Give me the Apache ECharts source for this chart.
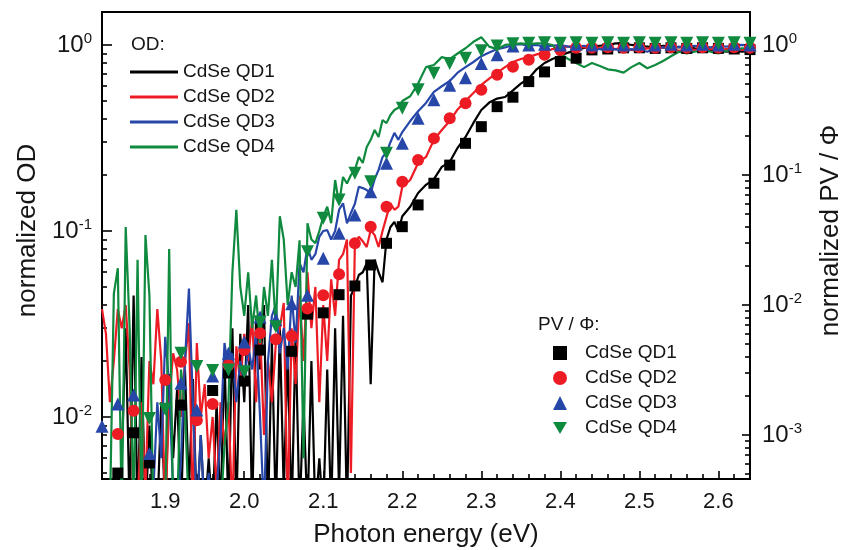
<!DOCTYPE html>
<html><head><meta charset="utf-8">
<script src="https://cdn.jsdelivr.net/npm/echarts@6/dist/echarts.min.js"></script>
<style>html,body{margin:0;padding:0;background:#fff}#c{width:845px;height:550px}</style>
</head><body><div id="c"></div>
<script>
// ---------- data ----------
const lineEnergy = [
1.820,1.825,1.830,1.835,1.840,1.845,1.850,1.855,1.860,1.865,
1.870,1.875,1.880,1.885,1.890,1.895,1.900,1.905,1.910,1.915,
1.920,1.925,1.930,1.935,1.940,1.945,1.950,1.955,1.960,1.965,
1.970,1.975,1.980,1.985,1.990,1.995,2.000,2.005,2.010,2.015,
2.020,2.025,2.030,2.035,2.040,2.045,2.050,2.055,2.060,2.065,
2.070,2.075,2.080,2.085,2.090,2.095,2.100,2.105,2.110,2.115,
2.120,2.125,2.130,2.135,2.140,2.145,2.150,2.155,2.160,2.165,
2.170,2.175,2.180,2.185,2.190,2.195,2.200,
2.21,2.22,2.23,2.24,2.25,2.26,2.27,2.28,2.29,2.30,
2.31,2.32,2.33,2.34,2.35,2.36,2.37,2.38,2.39,2.40,
2.41,2.42,2.43,2.44,2.45,2.46,2.47,2.48,2.49,2.50,
2.51,2.52,2.53,2.54,2.55,2.56,2.57,2.58,2.59,2.60,
2.61,2.62,2.63,2.64];

const odQD1 = [
0.003,0.003,0.003,0.004,0.003,0.006,0.03,0.003,0.045,0.003,
0.021,0.003,0.009,0.003,0.003,0.012,0.003,0.017,0.006,0.014,
0.003,0.018,0.004,0.016,0.003,0.008,0.003,0.006,0.003,0.012,
0.003,0.022,0.003,0.03,0.003,0.028,0.012,0.04,0.003,0.035,
0.018,0.04,0.003,0.025,0.003,0.03,0.004,0.022,0.003,0.028,
0.003,0.012,0.003,0.02,0.003,0.006,0.003,0.018,0.003,0.03,
0.004,0.035,0.003,0.045,0.05,0.058,0.06,0.067,0.015,0.07,
0.06,0.053,0.09,0.105,0.112,0.1,0.12,
0.135,0.16,0.177,0.19,0.221,0.235,0.28,0.32,0.381,0.447,
0.49,0.515,0.525,0.57,0.62,0.66,0.74,0.8,0.84,0.875,
0.91,0.94,0.964,0.98,0.99,1.0,1.02,1.02,1.0,0.99,
0.98,0.97,0.99,0.98,0.97,0.98,0.96,0.95,0.94,0.93,
0.92,0.93,0.92,0.93];

const odQD2 = [
0.038,0.028,0.012,0.02,0.038,0.03,0.04,0.018,0.003,0.003,
0.012,0.004,0.02,0.015,0.038,0.02,0.003,0.012,0.022,0.018,
0.01,0.02,0.032,0.003,0.025,0.01,0.015,0.006,0.01,0.004,
0.012,0.007,0.012,0.003,0.024,0.015,0.028,0.02,0.034,0.012,
0.03,0.008,0.02,0.012,0.025,0.03,0.041,0.003,0.03,0.015,
0.045,0.02,0.06,0.03,0.05,0.012,0.04,0.02,0.055,0.035,
0.07,0.075,0.09,0.005,0.086,0.093,0.088,0.082,0.101,0.095,
0.082,0.1,0.119,0.141,0.13,0.135,0.173,
0.188,0.232,0.25,0.309,0.349,0.39,0.45,0.5,0.552,0.61,
0.66,0.71,0.76,0.81,0.84,0.86,0.89,0.91,0.95,0.976,
0.98,0.99,0.97,0.98,0.96,0.97,0.95,0.97,0.94,0.93,
0.96,0.95,0.97,0.96,0.93,0.95,0.94,0.96,0.95,0.94,
0.95,0.96,0.94,0.95];

const odQD3 = [
0.003,0.003,0.003,0.003,0.003,0.003,0.003,0.003,0.003,0.003,
0.003,0.003,0.003,0.004,0.012,0.006,0.027,0.015,0.004,0.003,
0.006,0.02,0.049,0.012,0.003,0.008,0.003,0.005,0.003,0.004,
0.008,0.025,0.018,0.022,0.012,0.02,0.015,0.024,0.018,0.028,
0.01,0.003,0.02,0.035,0.04,0.022,0.03,0.018,0.045,0.025,
0.067,0.06,0.082,0.07,0.075,0.093,0.1,0.101,0.09,0.1,
0.13,0.141,0.11,0.125,0.14,0.173,0.17,0.166,0.16,0.19,
0.213,0.25,0.263,0.3,0.337,0.309,0.34,
0.39,0.44,0.488,0.56,0.6,0.64,0.71,0.76,0.81,0.87,
0.91,0.95,0.97,1.0,1.01,0.99,1.0,0.98,0.99,1.0,
0.98,0.97,0.99,0.96,0.95,0.94,0.95,0.93,0.95,0.94,
0.92,0.96,0.97,0.96,0.98,0.97,0.99,0.98,0.97,0.99,
0.98,0.99,1.0,0.99];

const odQD4 = [
0.003,0.003,0.003,0.046,0.063,0.003,0.105,0.03,0.003,0.07,
0.003,0.095,0.045,0.003,0.003,0.004,0.003,0.08,0.003,0.003,
0.018,0.011,0.003,0.004,0.003,0.003,0.003,0.003,0.003,0.004,
0.003,0.007,0.012,0.06,0.13,0.05,0.035,0.06,0.03,0.045,
0.025,0.05,0.035,0.07,0.03,0.12,0.09,0.04,0.06,0.05,
0.089,0.006,0.11,0.09,0.086,0.1,0.119,0.135,0.11,0.188,
0.14,0.195,0.18,0.2,0.213,0.25,0.232,0.283,0.309,0.349,
0.32,0.395,0.38,0.42,0.447,0.46,0.5,
0.53,0.62,0.76,0.78,0.86,0.84,0.9,0.96,1.04,1.1,
0.98,0.95,1.0,1.01,1.02,1.01,1.02,1.02,1.0,0.9,
0.84,0.8,0.76,0.8,0.77,0.74,0.73,0.71,0.76,0.8,
0.75,0.78,0.82,0.87,0.92,0.9,0.92,0.94,0.92,0.9,
0.93,0.94,0.96,0.96];

const markerEnergy = [
1.82,1.84,1.86,1.88,1.90,1.92,1.94,1.96,1.98,2.00,
2.02,2.04,2.06,2.08,2.10,2.12,2.14,2.16,2.18,2.20,
2.22,2.24,2.26,2.28,2.30,2.32,2.34,2.36,2.38,2.40,
2.42,2.44,2.46,2.48,2.50,2.52,2.54,2.56,2.58,2.60,
2.62,2.64];

const pvQD1 = [
null,0.00051,0.00104,0.00061,null,0.0017,null,0.0022,0.0030,0.0026,
0.0045,null,0.0044,0.0085,0.0087,0.012,0.014,0.0203,0.0298,0.040,
0.0588,0.0863,0.119,0.175,0.235,0.335,0.396,0.522,0.62,0.745,
0.79,0.915,0.93,0.95,0.95,0.94,0.95,0.94,0.95,0.94,
0.93,0.92];

const pvQD2 = [
null,0.00102,0.00154,null,0.00265,0.00366,0.0013,0.00173,0.00345,0.0045,
0.00605,0.00545,0.00578,0.0094,0.0119,0.0172,0.0298,0.040,0.057,0.0888,
0.130,0.191,0.273,0.356,0.451,0.59,0.68,0.77,0.84,0.915,
0.95,0.95,0.96,0.95,0.96,0.95,0.96,0.95,0.96,0.95,
0.96,0.95];

const pvQD3 = [
0.00117,0.00173,0.00203,0.00072,null,0.0025,0.00156,0.00284,0.00425,0.0052,
0.0081,0.0077,0.0102,0.0119,0.0229,0.0356,0.0492,0.0744,0.123,0.175,
0.273,0.378,0.49,0.56,0.72,0.84,0.98,1.0,1.01,1.0,
1.01,1.0,1.01,1.0,1.01,1.0,1.01,1.0,1.01,1.0,
1.01,1.0];

const pvQD4 = [
null,null,null,0.00134,0.00158,0.00425,0.00336,0.00313,0.00316,0.00307,
0.0074,0.0068,null,0.0257,0.0464,0.0642,0.103,0.0888,0.147,0.326,
0.451,0.605,0.72,0.79,0.9,0.98,1.02,1.03,1.04,1.03,
1.04,1.03,1.04,1.03,1.04,1.03,1.04,1.03,1.04,1.03,
1.04,1.03];

const seriesNames = ['CdSe QD1','CdSe QD2','CdSe QD3','CdSe QD4'];
const xTicks = [1.9,2.0,2.1,2.2,2.3,2.4,2.5,2.6];
const xMinorTicks = [1.84,1.86,1.88,1.92,1.94,1.96,1.98,2.02,2.04,2.06,2.08,2.12,2.14,2.16,2.18,
  2.22,2.24,2.26,2.28,2.32,2.34,2.36,2.38,2.42,2.44,2.46,2.48,2.52,2.54,2.56,2.58,2.62];
const odTicks = [0.01,0.1,1];
const odMinorTicks = [0.005,0.006,0.007,0.008,0.009,0.02,0.03,0.04,0.05,0.06,0.07,0.08,0.09,
  0.2,0.3,0.4,0.5,0.6,0.7,0.8,0.9];
const pvTicks = [0.001,0.01,0.1,1];
const pvMinorTicks = [0.0005,0.0006,0.0007,0.0008,0.0009,0.002,0.003,0.004,0.005,0.006,0.007,0.008,0.009,
  0.02,0.03,0.04,0.05,0.06,0.07,0.08,0.09,0.2,0.3,0.4,0.5,0.6,0.7,0.8,0.9];

// ---------- styles ----------
const colors = ['#000000','#ed1c24','#2747a8','#0f8a3e'];
const pvSymbols = ['rect','circle','triangle','path://M0,0L10,0L5,8.7Z'];
const pvSizes = [11,12,13,13];
const FONT = '"Liberation Sans", Arial, Helvetica, sans-serif';
const TXT = '#151515';
const tickStyle = {color:'#000', width:1.6};

const odSets = [odQD1, odQD2, odQD3, odQD4];
const pvSets = [pvQD1, pvQD2, pvQD3, pvQD4];

function powLabel(v){
  const e = Math.round(Math.log10(v));
  return '{b|10}{s|' + e + '}';
}
const powRich = {
  b:{fontSize:24, color:TXT, fontFamily:FONT, lineHeight:28},
  s:{fontSize:15, color:TXT, fontFamily:FONT, verticalAlign:'top', lineHeight:15}
};

const series = [];
odSets.forEach((arr, k) => {
  series.push({
    type:'line', name:'OD: ' + seriesNames[k], xAxisIndex:0, yAxisIndex:0,
    data: lineEnergy.map((e,i) => [e, arr[i]]),
    symbol:'none', showSymbol:false, clip:true, z:2,
    lineStyle:{color:colors[k], width:2.2}, itemStyle:{color:colors[k]},
    emphasis:{disabled:true}
  });
});
pvSets.forEach((arr, k) => {
  series.push({
    type:'scatter', name:'PV: ' + seriesNames[k], xAxisIndex:0, yAxisIndex:2,
    data: markerEnergy.map((e,i) => [e, arr[i]]).filter(p => p[1] !== null),
    symbol:pvSymbols[k], symbolSize:pvSizes[k], clip:true, z:3,
    itemStyle:{color:colors[k], opacity:1},
    emphasis:{disabled:true}
  });
});

const chart = echarts.init(document.getElementById('c'), null, {renderer:'canvas'});
chart.setOption({
  animation:false,
  backgroundColor:'#ffffff',
  textStyle:{fontFamily:FONT},
  title:[
    {text:'OD:', left:131, top:35, padding:0, textStyle:{fontSize:19, fontWeight:'normal', color:TXT, fontFamily:FONT}},
    {text:'PV / \u03A6:', left:538, top:315, padding:0, textStyle:{fontSize:19, fontWeight:'normal', color:TXT, fontFamily:FONT}}
  ],
  legend:[
    {data: seriesNames.map(n => ({name:'OD: ' + n, icon:'rect'})), orient:'vertical', left:130, top:62, padding:0,
     itemWidth:48, itemHeight:3, itemGap:5, selectedMode:false,
     formatter: n => n.replace('OD: ',''),
     textStyle:{fontSize:19, color:TXT, lineHeight:20, fontFamily:FONT}},
    {data: seriesNames.map(n => 'PV: ' + n), orient:'vertical', left:553, top:343, padding:0,
     itemWidth:14, itemHeight:14, itemGap:5, selectedMode:false,
     formatter: n => n.replace('PV: ',''),
     textStyle:{fontSize:19, color:TXT, lineHeight:20, fontFamily:FONT, padding:[0,0,0,13]}}
  ],
  grid:{left:102, right:95, top:12, bottom:71, show:true, borderColor:'#000', borderWidth:2,
        backgroundColor:'transparent', containLabel:false, outerBoundsMode:'none'},
  xAxis:[
    {type:'value', position:'bottom', min:1.82, max:2.64,
     axisLine:{show:false}, splitLine:{show:false},
     axisTick:{inside:true, length:8, customValues:xTicks, lineStyle:tickStyle},
     axisLabel:{customValues:xTicks, margin:12, fontSize:22, color:TXT, fontFamily:FONT, formatter:v => v.toFixed(1)},
     name:'Photon energy (eV)', nameLocation:'middle', nameGap:43,
     nameTextStyle:{fontSize:26, color:TXT, fontFamily:FONT}},
    {type:'value', position:'bottom', min:1.82, max:2.64,
     axisLine:{show:false}, splitLine:{show:false}, axisLabel:{show:false},
     axisTick:{inside:true, length:5, customValues:xMinorTicks, lineStyle:tickStyle}}
  ],
  yAxis:[
    {type:'log', logBase:10, position:'left', min:0.00464, max:1.504,
     axisLine:{show:false}, splitLine:{show:false},
     axisTick:{inside:true, length:10, customValues:odTicks, lineStyle:tickStyle},
     axisLabel:{customValues:odTicks, margin:10, formatter:powLabel, rich:powRich},
     name:'normalized OD', nameLocation:'middle', nameGap:56, nameRotate:90,
     nameTextStyle:{fontSize:26, color:TXT, fontFamily:FONT, padding:[0,0,0,30]}},
    {type:'log', logBase:10, position:'left', min:0.00464, max:1.504,
     axisLine:{show:false}, splitLine:{show:false}, axisLabel:{show:false},
     axisTick:{inside:true, length:5, customValues:odMinorTicks, lineStyle:tickStyle}},
    {type:'log', logBase:10, position:'right', min:0.000459, max:1.79,
     axisLine:{show:false}, splitLine:{show:false},
     axisTick:{inside:true, length:8, customValues:pvTicks, lineStyle:tickStyle},
     axisLabel:{customValues:pvTicks, margin:12, formatter:powLabel, rich:powRich},
     name:'normalized PV / \u03A6', nameLocation:'middle', nameGap:68, nameRotate:90,
     nameTextStyle:{fontSize:26, color:TXT, fontFamily:FONT, padding:[0,0,0,30]}},
    {type:'log', logBase:10, position:'right', min:0.000459, max:1.79,
     axisLine:{show:false}, splitLine:{show:false}, axisLabel:{show:false},
     axisTick:{inside:true, length:5, customValues:pvMinorTicks, lineStyle:tickStyle}}
  ],
  series: series
});
</script></body></html>
